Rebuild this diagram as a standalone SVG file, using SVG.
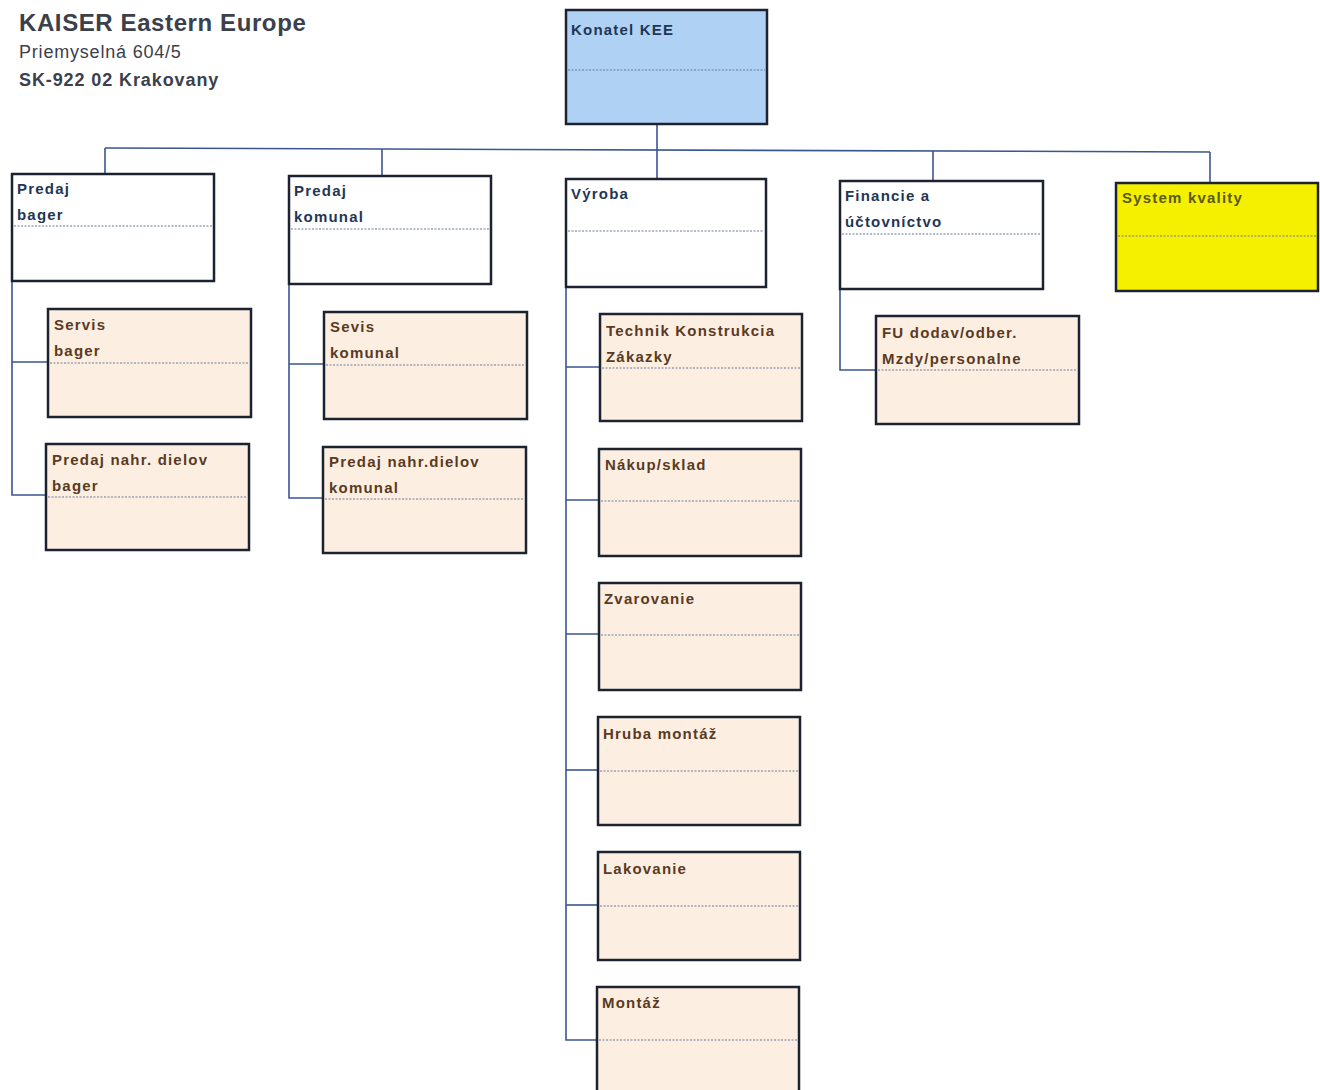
<svg xmlns="http://www.w3.org/2000/svg" width="1320" height="1090" viewBox="0 0 1320 1090">
<style>
.box{stroke:#1c2230;stroke-width:2.5}
.w{fill:#ffffff}
.c{fill:#fcefe2}
.b{fill:#afd2f4}
.y{fill:#f5f000}
.div{stroke:#6a7a9a;stroke-width:1;stroke-dasharray:2 1.5}
.t{font-family:"Liberation Sans",Arial,sans-serif;font-weight:bold;font-size:15px;letter-spacing:1.2px}
.tb{fill:#1f3656}
.tc{fill:#5a3a22}
.ty{fill:#5a5a10}
.conn line,.conn polyline{stroke:#3a5590;stroke-width:1.6;fill:none}
.hd{font-family:"Liberation Sans",Arial,sans-serif;fill:#3b404b}
</style>
<rect width="1320" height="1090" fill="#ffffff"/>
<g id="header">
<text class="hd" x="19" y="31" font-size="24" font-weight="bold" letter-spacing="0.6">KAISER Eastern Europe</text>
<text class="hd" x="19" y="58" font-size="18" letter-spacing="0.8">Priemyselná 604/5</text>
<text class="hd" x="19" y="86" font-size="18" font-weight="bold" letter-spacing="0.9">SK-922 02 Krakovany</text>
</g>
<g class="conn" id="connectors">
<line x1="657" y1="124" x2="657" y2="179"/>
<line x1="105" y1="148" x2="1210" y2="152"/>
<line x1="105" y1="148" x2="105" y2="174"/>
<line x1="382" y1="149" x2="382" y2="176"/>
<line x1="933" y1="151" x2="933" y2="181"/>
<line x1="1210" y1="152" x2="1210" y2="183"/>
<polyline points="12,281 12,495 46,495"/>
<line x1="12" y1="362" x2="48" y2="362"/>
<polyline points="289,284 289,498 323,498"/>
<line x1="289" y1="364" x2="324" y2="364"/>
<polyline points="566,287 566,1040 597,1040"/>
<line x1="566" y1="367" x2="600" y2="367"/>
<line x1="566" y1="500" x2="599" y2="500"/>
<line x1="566" y1="634" x2="599" y2="634"/>
<line x1="566" y1="770" x2="598" y2="770"/>
<line x1="566" y1="905" x2="598" y2="905"/>
<polyline points="840,289 840,370 876,370"/>
</g>
<g id="konatel">
<rect class="box b" x="566" y="10" width="201" height="114"/>
<line class="div" x1="568" y1="70" x2="765" y2="70"/>
<text class="t tb" x="571" y="35" letter-spacing="0.3">Konatel KEE</text>
</g>
<g id="predaj-bager">
<rect class="box w" x="12" y="174" width="202" height="107"/>
<line class="div" x1="14" y1="226" x2="212" y2="226"/>
<text class="t tb" x="17" y="194">Predaj</text>
<text class="t tb" x="17" y="220">bager</text>
</g>
<g id="predaj-komunal">
<rect class="box w" x="289" y="176" width="202" height="108"/>
<line class="div" x1="291" y1="229" x2="489" y2="229"/>
<text class="t tb" x="294" y="196">Predaj</text>
<text class="t tb" x="294" y="222">komunal</text>
</g>
<g id="vyroba">
<rect class="box w" x="566" y="179" width="200" height="108"/>
<line class="div" x1="568" y1="231" x2="764" y2="231"/>
<text class="t tb" x="571" y="199">Výroba</text>
</g>
<g id="financie">
<rect class="box w" x="840" y="181" width="203" height="108"/>
<line class="div" x1="842" y1="234" x2="1041" y2="234"/>
<text class="t tb" x="845" y="201">Financie a</text>
<text class="t tb" x="845" y="227">účtovníctvo</text>
</g>
<g id="system-kvality">
<rect class="box y" x="1116" y="183" width="202" height="108"/>
<line class="div" x1="1118" y1="236" x2="1316" y2="236"/>
<text class="t ty" x="1122" y="203" letter-spacing="0.6">System kvality</text>
</g>
<g id="servis-bager">
<rect class="box c" x="48" y="309" width="203" height="108"/>
<line class="div" x1="50" y1="363" x2="249" y2="363"/>
<text class="t tc" x="54" y="330">Servis</text>
<text class="t tc" x="54" y="356">bager</text>
</g>
<g id="predaj-nahr-bager">
<rect class="box c" x="46" y="444" width="203" height="106"/>
<line class="div" x1="48" y1="497" x2="247" y2="497"/>
<text class="t tc" x="52" y="465">Predaj nahr.  dielov</text>
<text class="t tc" x="52" y="491">bager</text>
</g>
<g id="sevis-komunal">
<rect class="box c" x="324" y="312" width="203" height="107"/>
<line class="div" x1="326" y1="365" x2="525" y2="365"/>
<text class="t tc" x="330" y="332">Sevis</text>
<text class="t tc" x="330" y="358">komunal</text>
</g>
<g id="predaj-nahr-komunal">
<rect class="box c" x="323" y="447" width="203" height="106"/>
<line class="div" x1="325" y1="499" x2="524" y2="499"/>
<text class="t tc" x="329" y="467">Predaj nahr.dielov</text>
<text class="t tc" x="329" y="493">komunal</text>
</g>
<g id="technik">
<rect class="box c" x="600" y="314" width="202" height="107"/>
<line class="div" x1="602" y1="368" x2="800" y2="368"/>
<text class="t tc" x="606" y="336">Technik Konstrukcia</text>
<text class="t tc" x="606" y="362">Zákazky</text>
</g>
<g id="nakup">
<rect class="box c" x="599" y="449" width="202" height="107"/>
<line class="div" x1="601" y1="501" x2="799" y2="501"/>
<text class="t tc" x="605" y="470">Nákup/sklad</text>
</g>
<g id="zvarovanie">
<rect class="box c" x="599" y="583" width="202" height="107"/>
<line class="div" x1="601" y1="635" x2="799" y2="635"/>
<text class="t tc" x="604" y="604">Zvarovanie</text>
</g>
<g id="hruba-montaz">
<rect class="box c" x="598" y="717" width="202" height="108"/>
<line class="div" x1="600" y1="771" x2="798" y2="771"/>
<text class="t tc" x="603" y="739">Hruba montáž</text>
</g>
<g id="lakovanie">
<rect class="box c" x="598" y="852" width="202" height="108"/>
<line class="div" x1="600" y1="906" x2="798" y2="906"/>
<text class="t tc" x="603" y="874">Lakovanie</text>
</g>
<g id="montaz">
<rect class="box c" x="597" y="987" width="202" height="110"/>
<line class="div" x1="599" y1="1040" x2="797" y2="1040"/>
<text class="t tc" x="602" y="1008">Montáž</text>
</g>
<g id="fu">
<rect class="box c" x="876" y="316" width="203" height="108"/>
<line class="div" x1="878" y1="370" x2="1077" y2="370"/>
<text class="t tc" x="882" y="338">FU dodav/odber.</text>
<text class="t tc" x="882" y="364">Mzdy/personalne</text>
</g>
</svg>
